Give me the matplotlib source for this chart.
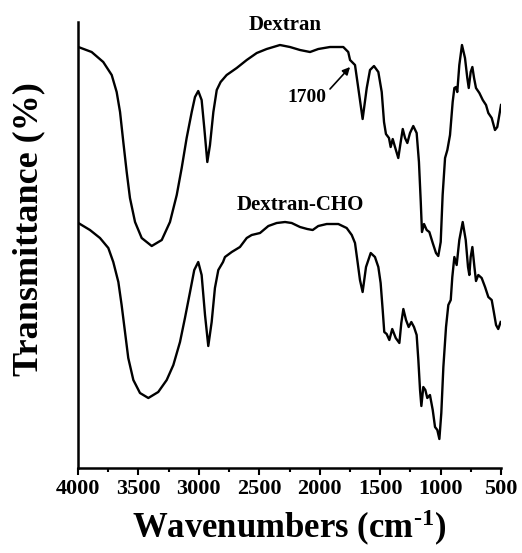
import numpy as np
import matplotlib.pyplot as plt

plt.rcParams['font.family'] = 'Liberation Serif'
plt.rcParams['font.weight'] = 'bold'
plt.rcParams['mathtext.fontset'] = 'custom'
plt.rcParams['mathtext.rm'] = 'Liberation Serif:bold'
plt.rcParams['mathtext.it'] = 'Liberation Serif:bold'
plt.rcParams['mathtext.bf'] = 'Liberation Serif:bold'

# Dextran (upper trace), arbitrary transmittance units
dex_wn = [3997, 3887, 3791, 3721, 3680, 3652, 3625, 3597, 3570, 3528, 3473, 3390,
          3307, 3239, 3183, 3142, 3101, 3059, 3032, 3005, 2977, 2955, 2930, 2908,
          2880, 2852, 2820, 2770, 2687, 2604, 2521, 2439, 2329, 2246, 2163, 2080,
          2012, 1915, 1805, 1764, 1749, 1708, 1681, 1645, 1611, 1584, 1551, 1515,
          1487, 1468, 1452, 1427, 1413, 1396, 1377, 1350, 1330, 1313, 1294, 1275,
          1253, 1226, 1198, 1179, 1164, 1154, 1137, 1115, 1093, 1065, 1038, 1019,
          999, 983, 963, 944, 922, 900, 886, 872, 862, 845, 823, 798, 779, 767,
          751, 737, 723, 707, 679, 651, 624, 605, 577, 550, 531, 514, 500]
dex_t = [421, 416, 406, 393, 376, 356, 326, 296, 270, 246, 230, 222,
         228, 246, 273, 300, 330, 356, 371, 377, 368, 340, 306, 323,
         356, 378, 386, 393, 400, 408, 415, 419, 423, 421, 418, 416,
         419, 421, 421, 416, 408, 403, 380, 349, 380, 398, 402, 396,
         376, 346, 334, 330, 321, 329, 321, 310, 326, 339, 330, 325,
         335, 342, 335, 306, 266, 236, 244, 238, 236, 225, 215, 212,
         226, 273, 310, 318, 333, 366, 380, 381, 376, 403, 423, 410, 390, 380,
         396, 401, 390, 380, 375, 368, 363, 355, 350, 338, 341, 353, 363]

# Dextran-CHO (lower trace)
cho_wn = [3997, 3901, 3818, 3749, 3708, 3666, 3639, 3611, 3584, 3542, 3487, 3418,
          3336, 3266, 3211, 3156, 3115, 3073, 3038, 3005, 2977, 2949, 2922, 2894,
          2867, 2839, 2800, 2784, 2728, 2660, 2604, 2563, 2494, 2425, 2356, 2287,
          2232, 2163, 2103, 2058, 2012, 1942, 1846, 1777, 1735, 1708, 1689, 1667,
          1645, 1617, 1578, 1543, 1515, 1496, 1479, 1466, 1446, 1424, 1400, 1371,
          1341, 1325, 1308, 1286, 1264, 1242, 1220, 1198, 1184, 1170, 1159, 1143,
          1126, 1110, 1088, 1065, 1046, 1027, 1010, 994, 977, 955, 936, 916, 903,
          886, 867, 845, 817, 792, 773, 762, 751, 737, 720, 707, 688, 660, 632,
          605, 577, 558, 541, 523, 503]
cho_t = [245, 238, 230, 220, 206, 186, 163, 136, 110, 88, 75, 70,
         76, 88, 103, 126, 150, 176, 198, 206, 193, 153, 122, 146,
         180, 198, 206, 211, 216, 221, 230, 233, 235, 242, 245, 246,
         245, 241, 239, 238, 242, 244, 244, 240, 233, 225, 208, 188,
         176, 201, 215, 211, 201, 185, 158, 136, 134, 128, 139, 130,
         125, 145, 159, 148, 141, 146, 141, 133, 108, 78, 62, 81,
         78, 70, 73, 58, 41, 38, 29, 55, 101, 141, 163, 168, 191,
         211, 203, 228, 246, 228, 201, 193, 211, 221, 201, 187, 193, 190, 181,
         171, 168, 155, 143, 139, 146]

fig = plt.figure(figsize=(5.22, 5.53), dpi=100)
ax = fig.add_axes([0.1494, 0.1537, 0.8104, 0.8065])

ax.plot(dex_wn, dex_t, color='black', lw=1.7, solid_joinstyle='round')
ax.plot(cho_wn, cho_t, color='black', lw=1.7, solid_joinstyle='round')

ax.set_xlim(4000, 500)
ax.set_ylim(0, 446)
ax.set_xticks([4000, 3500, 3000, 2500, 2000, 1500, 1000, 500])
ax.set_xticks(np.arange(3750, 500, -500), minor=True)
ax.set_yticks([])
ax.tick_params(axis='x', which='major', direction='out', length=5, width=1.5,
               labelsize=16, pad=3)
ax.tick_params(axis='x', which='minor', direction='out', length=3, width=1.5)
for lab in ax.get_xticklabels():
    lab.set_fontweight('bold')

for side in ['top', 'right']:
    ax.spines[side].set_visible(False)
for side in ['left', 'bottom']:
    ax.spines[side].set_linewidth(1.8)

ax.set_xlabel(r'Wavenumbers (cm$^{\text{-}1}$)', fontsize=25, fontweight='bold', labelpad=6)
ax.set_ylabel('Transmittance (%)', fontsize=26, fontweight='bold')
ax.yaxis.set_label_coords(-0.078, 0.536)

ax.text(2287, 443, 'Dextran', ha='center', va='center', fontsize=15, fontweight='bold')
ax.text(2163, 263, 'Dextran-CHO', ha='center', va='center', fontsize=15, fontweight='bold')
ax.text(2108, 371, '1700', ha='center', va='center', fontsize=14, fontweight='bold')
ax.annotate('', xy=(1749, 401), xytext=(1915, 379),
            arrowprops=dict(arrowstyle='-|>', color='black', lw=1.2,
                            shrinkA=0, shrinkB=0, mutation_scale=11))

fig.savefig('out.png', dpi=100)
